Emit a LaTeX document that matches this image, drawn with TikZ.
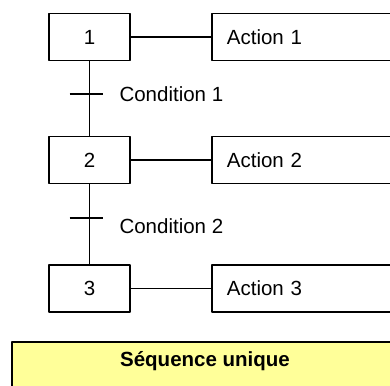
\documentclass[tikz,border=0pt]{standalone}
\usepackage{fontspec}
\setmainfont{Liberation Sans}
\definecolor{jaunepale}{HTML}{FFFF99}

\begin{document}
\begin{tikzpicture}[
        x = 1pt, y = -1pt,
        line join=round,
        font = \fontsize{20.5}{24}\selectfont,
        etape/.style = {draw, line width=1.8pt, minimum width=81pt, minimum height=47pt, inner sep=0pt},
        action/.style = {draw, line width=1.8pt, anchor=west, minimum height=47pt, inner xsep=15pt, text width=160pt, align=left},
        lien/.style = {line width=1.5pt},
        bandeau/.style = {draw, line width=1.8pt, fill=jaunepale}
    ]
        \useasboundingbox (0,0) rectangle (390,385);
        \clip (0,0) rectangle (390,385);

        % etapes et actions
        \node[etape] (s1) at (89.5,37) {1};
        \node[etape] (s2) at (89.5,160) {2};
        \node[etape] (s3) at (89.5,288.5) {3};

        \node[action] (a1) at (211,37) {Action 1};
        \node[action] (a2) at (211,160) {Action 2};
        \node[action] (a3) at (211,288.5) {Action 3};

        \draw[lien] (s1) -- (a1);
        \draw[lien] (s2) -- (a2);
        \draw[lien] (s3) -- (a3);

        \draw[lien] (s1) -- (s2);
        \draw[lien] (s2) -- (s3);

        % transitions
        \coordinate (t1) at (89.5,94);
        \coordinate (t2) at (89.5,218);
        \draw[lien] ([xshift=-20]t1) -- ([xshift=13]t1);
        \draw[lien] ([xshift=-20]t2) -- ([xshift=13]t2);

        \node[anchor=west] (c1) at (116,94) {Condition 1};
        \node[anchor=west] (c2) at (116,226) {Condition 2};

        % bandeau du bas
        \draw[bandeau] (12,342) rectangle (398,400);
        \node[font=\fontsize{20.5}{24}\selectfont\bfseries] (titre) at (205,361) {Séquence unique};

    \end{tikzpicture}
\end{document}
